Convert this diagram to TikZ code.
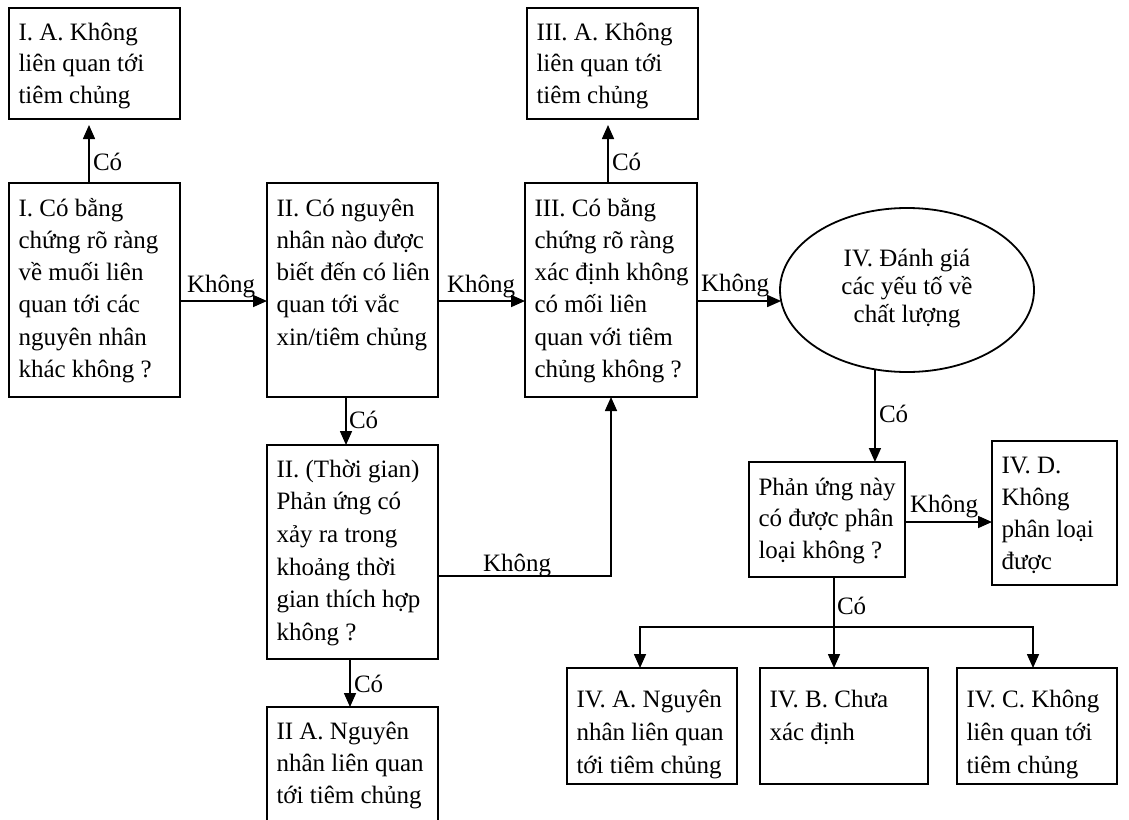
\documentclass[tikz,border=0pt]{standalone}
\usepackage{fontspec}
\setmainfont{Liberation Serif}
\usetikzlibrary{arrows.meta,fit,shapes.geometric}
\tikzset{
  bx/.style={draw, line width=1.8pt, inner sep=0pt, outer sep=0pt, rectangle},
  txt/.style={inner sep=0pt, outer sep=0pt, align=left},
  lbl/.style={inner sep=0pt, outer sep=0pt, font=\fontsize{25}{30}\selectfont},
  con/.style={line width=1.6pt},
  arr/.style={con, -{Triangle[length=14pt,width=12pt]}},
}
% #1 name, #2 x1, #3 y1, #4 x2, #5 y2, #6 first-baseline offset, #7 line spacing, #8 text
\newcommand\flowbox[8]{%
  \node[bx, fit={(#2,#3) (#4,#5)}] (#1) {};
  \node[txt, font={\fontsize{25}{#7}\selectfont}, anchor=north west]
    (#1-t) at ([shift={(9.5,#6-26)}]#1.north west) {\rule{0pt}{26pt}#8};
}
\lineskiplimit=-50pt
\lineskip=0pt
\begin{document}
\begin{tikzpicture}[x=1pt,y=-1pt]
\useasboundingbox (0,0) rectangle (1129,819);
\clip (0,0) rectangle (1129,819);
\fill[white] (0,0) rectangle (1129,819);

% boxes
\flowbox{IA}{9}{8}{180}{119}{32}{31.5}{I. A. Không\\liên quan tới\\tiêm chủng}
\flowbox{I}{9}{183}{180}{397}{33}{32.3}{I. Có bằng\\chứng rõ ràng\\về muối liên\\quan tới các\\nguyên nhân\\khác không ?}
\flowbox{II}{267}{183}{438}{397}{33}{32.3}{II. Có nguyên\\nhân nào được\\biết đến có liên\\quan tới vắc\\xin/tiêm chủng}
\flowbox{III}{525}{183}{697}{397}{33}{32.3}{III. Có bằng\\chứng rõ ràng\\xác định không\\có mối liên\\quan với tiêm\\chủng không ?}
\flowbox{IIIA}{527}{8}{698}{119}{32}{31.5}{III. A. Không\\liên quan tới\\tiêm chủng}
\flowbox{IIt}{267}{445}{438}{659}{32}{32.7}{II. (Thời gian)\\Phản ứng có\\xảy ra trong\\khoảng thời\\gian thích hợp\\không ?}
\flowbox{IIA}{267}{707}{438}{840}{32}{32}{II A. Nguyên\\nhân liên quan\\tới tiêm chủng}
\flowbox{ph}{749}{462}{905}{577}{33}{31.6}{Phản ứng này\\có được phân\\loại không ?}
\flowbox{IVD}{992}{441}{1117}{585}{32}{32}{IV. D.\\Không\\phân loại\\được}
\flowbox{IVA}{567}{668}{737}{784}{39}{33}{IV. A. Nguyên\\nhân liên quan\\tới tiêm chủng}
\flowbox{IVB}{760}{668}{928}{784}{39}{33}{IV. B. Chưa\\xác định}
\flowbox{IVC}{957}{668}{1117}{784}{39}{33}{IV. C. Không\\liên quan tới\\tiêm chủng}

% ellipse
\node[draw, ellipse, line width=1.8pt, inner sep=0pt, outer sep=0pt,
      minimum width=254pt, minimum height=164pt] (ell) at (907,290) {};
\node[txt, align=center, anchor=north, font={\fontsize{25}{28.3}\selectfont}]
  (ell-t) at (907,240) {\rule{0pt}{26pt}IV. Đánh giá\\các yếu tố về\\chất lượng};

% helper coordinates
\coordinate (cI) at (89,0);
\coordinate (cIII) at (608,0);
\coordinate (yr) at (0,301);
\coordinate (cII) at (346,0);
\coordinate (cIIt) at (350,0);
\coordinate (yk) at (0,576);
\coordinate (yd) at (0,522);
\coordinate (brl) at (640,627);
\coordinate (brm) at (834,627);
\coordinate (brr) at (1033,627);

% connectors
\draw[arr, shorten >=6pt] (I.north -| cI) -- (IA.south -| cI);
\draw[arr, shorten >=6pt] (III.north -| cIII) -- (IIIA.south -| cIII);
\draw[arr] (I.east |- yr) -- (II.west |- yr);
\draw[arr] (II.east |- yr) -- (III.west |- yr);
\draw[arr] (III.east |- yr) -- (ell.185.6);
\draw[arr] (II.south -| cII) -- (IIt.north -| cII);
\draw[arr] (IIt.south -| cIIt) -- (IIA.north -| cIIt);
\draw[arr] (IIt.east |- yk) -| (III.south);
\draw[arr] (ell.248) -- (ph.north -| ell.248);
\draw[arr] (ph.east |- yd) -- (IVD.west |- yd);
\draw[arr] (ph.south -| brm) -- (IVB.north -| brm);
\draw[arr] (brr) -- (brl) -- (IVA.north -| brl);
\draw[arr] (brl) -- (brr) -- (IVC.north -| brr);

% labels
\node[lbl, anchor=base west] (c1) at (93,170) {Có};
\node[lbl, anchor=base west] (c2) at (612,170) {Có};
\node[lbl, anchor=base west] (c3) at (349,428) {Có};
\node[lbl, anchor=base west] (c4) at (354,692) {Có};
\node[lbl, anchor=base west] (c5) at (879,422) {Có};
\node[lbl, anchor=base west] (c6) at (837,614) {Có};
\node[lbl, anchor=base west] (k1) at (187,292) {Không};
\node[lbl, anchor=base west] (k2) at (447,292) {Không};
\node[lbl, anchor=base west] (k3) at (701,291) {Không};
\node[lbl, anchor=base west] (k4) at (483,571) {Không};
\node[lbl, anchor=base west] (k5) at (910,512) {Không};
\end{tikzpicture}
\end{document}
